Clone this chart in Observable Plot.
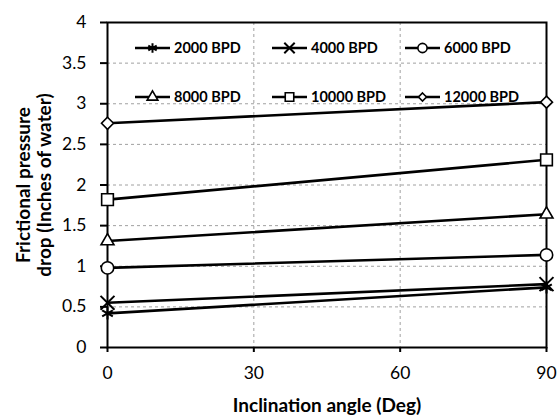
<!DOCTYPE html>
<html>
<head>
<meta charset="utf-8">
<script src="https://cdn.jsdelivr.net/npm/d3@7"></script>
<script src="https://cdn.jsdelivr.net/npm/@observablehq/plot@0.6"></script>
<style>
  html, body { margin: 0; padding: 0; background: #fff; }
  #wrap { position: relative; width: 559px; height: 415px; font-family: Lato, "Open Sans", sans-serif; }
  .leg { position: absolute; display: flex; align-items: center; font-weight: bold; font-size: 14.5px; color: #000; white-space: nowrap; line-height: 1; }
  .leg svg { display: block; margin-right: 2px; }
</style>
</head>
<body>
<div id="wrap"></div>
<script>
// ---- data ----
const angles = [0, 90];
const seriesNames = ["2000 BPD", "4000 BPD", "6000 BPD", "8000 BPD", "10000 BPD", "12000 BPD"];
const values2000 = [0.42, 0.74];
const values4000 = [0.55, 0.78];
const values6000 = [0.98, 1.14];
const values8000 = [1.31, 1.64];
const values10000 = [1.82, 2.31];
const values12000 = [2.76, 3.02];
const xTicks = [0, 30, 60, 90];
const yTicks = [0, 0.5, 1, 1.5, 2, 2.5, 3, 3.5, 4];
const xTitle = "Inclination angle (Deg)";
const yTitle = "Frictional pressure\ndrop (Inches of water)";

const seriesValues = [values2000, values4000, values6000, values8000, values10000, values12000];

// ---- styling ----
const symbolTypes = [d3.symbolAsterisk, d3.symbolTimes, d3.symbolCircle, d3.symbolTriangle, d3.symbolSquare, d3.symbolDiamond2];
const symbolR = [5.8, 6.4, 6.2, 4.8, 6.6, 5.4];
const symbolSW = [2, 2, 1.6, 1.6, 1.6, 1.6];
const legendR = [4.6, 4.8, 4.6, 4.0, 4.8, 3.6];

const rows = [];
seriesNames.forEach((s, i) => angles.forEach((a, j) => rows.push({series: s, idx: i, angle: a, value: seriesValues[i][j]})));

const seriesMarks = [];
seriesNames.forEach((s, i) => {
  const d = rows.filter(r => r.series === s);
  seriesMarks.push(Plot.line(d, {x: "angle", y: "value", stroke: "#000", strokeWidth: 2.6}));
});
seriesNames.forEach((s, i) => {
  const d = rows.filter(r => r.series === s);
  seriesMarks.push(Plot.dot(d, {x: "angle", y: "value", symbol: symbolTypes[i], r: symbolR[i], fill: "#fff", stroke: "#000", strokeWidth: symbolSW[i]}));
});

const chart = Plot.plot({
  width: 559,
  height: 415,
  marginLeft: 107,
  marginRight: 13,
  marginTop: 22,
  marginBottom: 68,
  style: {fontFamily: "Lato, 'Open Sans', sans-serif", fontSize: "17.5px", color: "#000", background: "#fff", overflow: "visible"},
  x: {domain: [0, 90]},
  y: {domain: [0, 4]},
  marks: [
    Plot.gridX(xTicks.slice(1, -1), {stroke: "#a0a0a0", strokeOpacity: 1, strokeDasharray: "3,3", strokeWidth: 1}),
    Plot.gridY(yTicks.slice(1, -1), {stroke: "#a0a0a0", strokeOpacity: 1, strokeDasharray: "3,3", strokeWidth: 1}),
    Plot.axisX(xTicks, {tickSize: 5, tickPadding: 14, label: null, strokeWidth: 2, fontSize: 17.5, tickFormat: d => String(d)}),
    Plot.axisY(yTicks, {tickSize: 7, tickPadding: 14, label: null, strokeWidth: 2, fontSize: 17.5, tickFormat: d => String(d)}),
    Plot.frame({stroke: "#000", strokeWidth: 2}),
    ...seriesMarks,
    Plot.text([yTitle], {frameAnchor: "left", textAnchor: "middle", rotate: -90, dx: -73.5, fontWeight: "bold", fontSize: 19, lineHeight: 1.12, text: d => d}),
    Plot.text([xTitle], {frameAnchor: "bottom", textAnchor: "middle", lineAnchor: "middle", dy: 58, fontWeight: "bold", fontSize: 19, text: d => d})
  ]
});

const wrap = document.getElementById("wrap");
wrap.appendChild(chart);

// ---- legend (overlay inside plot area) ----
const legLeft = [135, 272, 405];
const legTop = [48, 97];
seriesNames.forEach((s, i) => {
  const col = i % 3, row = Math.floor(i / 3);
  const div = document.createElement("div");
  div.className = "leg";
  div.style.left = legLeft[col] + "px";
  div.style.top = (legTop[row] - 8) + "px";
  const svg = d3.create("svg").attr("width", 37).attr("height", 16);
  svg.append("line").attr("x1", 0).attr("x2", 35).attr("y1", 8).attr("y2", 8).attr("stroke", "#000").attr("stroke-width", 2.6);
  svg.append("path")
    .attr("transform", "translate(17.5,8)")
    .attr("d", d3.symbol(symbolTypes[i], Math.PI * legendR[i] * legendR[i])())
    .attr("fill", "#fff").attr("stroke", "#000").attr("stroke-width", symbolSW[i]);
  div.appendChild(svg.node());
  const span = document.createElement("span");
  span.textContent = s;
  div.appendChild(span);
  wrap.appendChild(div);
});
</script>
</body>
</html>
